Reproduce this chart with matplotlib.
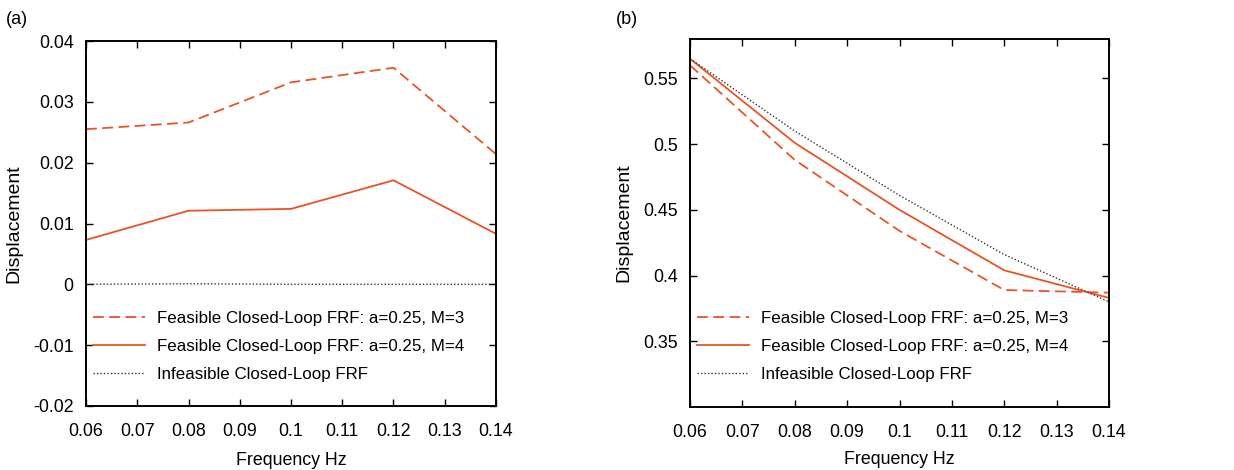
import matplotlib
matplotlib.use("Agg")
import matplotlib.pyplot as plt
from matplotlib.ticker import FuncFormatter

plt.rcParams['font.family'] = ['Liberation Sans', 'DejaVu Sans']
plt.rcParams['axes.unicode_minus'] = False

# --- data ---
freq = [0.06, 0.08, 0.10, 0.12, 0.14]

# panel (a)
a_m3 = [0.0255, 0.0266, 0.0332, 0.0356, 0.0214]
a_m4 = [0.0073, 0.0121, 0.0124, 0.0171, 0.0083]
a_inf = [0.0, 0.0001, 0.0, 0.0, 0.0]

# panel (b)
b_m3 = [0.560, 0.488, 0.434, 0.389, 0.387]
b_m4 = [0.565, 0.501, 0.450, 0.404, 0.383]
b_inf = [0.565, 0.510, 0.461, 0.416, 0.380]

labels = ["Feasible Closed-Loop FRF: a=0.25, M=3",
          "Feasible Closed-Loop FRF: a=0.25, M=4",
          "Infeasible Closed-Loop FRF"]
xticks = [0.06, 0.07, 0.08, 0.09, 0.1, 0.11, 0.12, 0.13, 0.14]
a_yticks = [-0.02, -0.01, 0, 0.01, 0.02, 0.03, 0.04]
b_yticks = [0.35, 0.4, 0.45, 0.5, 0.55]

orange = '#ec5222'
fs = 12.8

fig = plt.figure(figsize=(12.34, 4.70), dpi=100)
ax_a = fig.add_axes([86/1234, 64/470, 410/1234, 365/470])
ax_b = fig.add_axes([690/1234, 63/470, 419/1234, 368/470])

fmt = FuncFormatter(lambda v, p: ('%g' % round(v, 4)))


def style(ax, yticks, ylim):
    ax.set_xlim(0.06, 0.14)
    ax.set_ylim(*ylim)
    ax.set_xticks(xticks)
    ax.set_yticks(yticks)
    ax.xaxis.set_major_formatter(fmt)
    ax.yaxis.set_major_formatter(fmt)
    ax.tick_params(direction='in', top=True, right=True, length=5, width=1,
                   labelsize=fs)
    ax.tick_params(axis='x', pad=12)
    ax.tick_params(axis='y', pad=9)
    for s in ax.spines.values():
        s.set_linewidth(1.4)
    ax.set_xlabel('Frequency Hz', fontsize=fs)
    ax.set_ylabel('Displacement', fontsize=14)


for ax, m3, m4, inf in [(ax_a, a_m3, a_m4, a_inf), (ax_b, b_m3, b_m4, b_inf)]:
    ax.plot(freq, m3, color=orange, lw=1.3, dashes=(6, 3), label=labels[0])
    ax.plot(freq, m4, color=orange, lw=1.3, label=labels[1])
    ax.plot(freq, inf, color='#333333', lw=1.0, dashes=(1, 1.5), label=labels[2])

style(ax_a, a_yticks, (-0.02, 0.04))
style(ax_b, b_yticks, (0.30, 0.58))
ax_a.yaxis.set_label_coords(-0.156, 0.5)
ax_b.yaxis.set_label_coords(-0.138, 0.5)
ax_a.xaxis.set_label_coords(0.5, -0.125)
ax_b.xaxis.set_label_coords(0.5, -0.12)

for ax in (ax_a, ax_b):
    ax.legend(loc='upper left', bbox_to_anchor=(0.0, 0.28), frameon=False,
              prop={'size': 12.2}, handlelength=3.1, handletextpad=0.7,
              labelspacing=0.78, borderaxespad=0.0)

fig.text(6/1234, 1 - 20/470, '(a)', fontsize=13, va='center', ha='left')
fig.text(616/1234, 1 - 20/470, '(b)', fontsize=13, va='center', ha='left')

fig.savefig('out.png', dpi=100)
